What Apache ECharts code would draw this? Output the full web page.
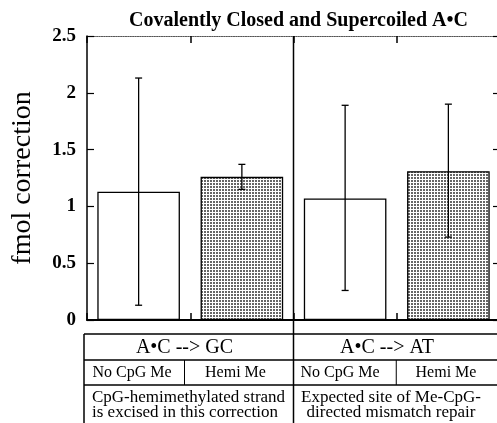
<!DOCTYPE html>
<html>
<head>
<meta charset="utf-8">
<script src="https://cdn.jsdelivr.net/npm/echarts@6/dist/echarts.min.js"></script>
<style>html,body{margin:0;padding:0;background:#fff}#c{width:497px;height:423px}</style>
</head>
<body>
<div id="c"></div>
<script>
// ---- data ----
const categories = ['A•C --> GC / No CpG Me', 'A•C --> GC / Hemi Me', 'A•C --> AT / No CpG Me', 'A•C --> AT / Hemi Me'];
const values = [1.13, 1.26, 1.07, 1.31];
const errLow = [0.13, 1.15, 0.26, 0.73];
const errHigh = [2.13, 1.37, 1.89, 1.90];
const yTicks = [0, 0.5, 1, 1.5, 2, 2.5];
const titleText = 'Covalently Closed and Supercoiled A•C';
const yName = 'fmol correction';
const groupLabels = ['A•C --> GC', 'A•C --> AT'];
const methylLabels = ['No CpG Me', 'Hemi Me', 'No CpG Me', 'Hemi Me'];
const noteLabels = [['CpG-hemimethylated strand', 'is excised in this correction'], ['Expected site of Me-CpG-', 'directed mismatch repair']];
const patterned = [false, true, false, true];

// ---- layout ----
const FONT = 'Liberation Serif';
const G = {left: 87, top: 36, width: 413, height: 284};
const band = G.width / 4;
const divX = G.left + 2 * band;
const T = {left: 84, top: 334, r1: 360, r2: 385, bottom: 423, right: 497};

// dotted pattern
const pc = document.createElement('canvas');
pc.width = 3; pc.height = 3;
const pctx = pc.getContext('2d');
pctx.fillStyle = '#fff'; pctx.fillRect(0, 0, 3, 3);
pctx.fillStyle = '#666'; pctx.fillRect(0, 0, 2, 2);

const chart = echarts.init(document.getElementById('c'), null, {renderer: 'canvas'});

const lineStyle = {stroke: '#000', lineWidth: 1.5};
const graphics = [];
// divider across plot and table
graphics.push({type: 'line', shape: {x1: divX, y1: G.top, x2: divX, y2: T.bottom}, style: {stroke: '#000', lineWidth: 1.5}, z: 100});
// table borders
graphics.push({type: 'line', shape: {x1: T.left, y1: T.top, x2: T.right, y2: T.top}, style: lineStyle});
graphics.push({type: 'line', shape: {x1: T.left, y1: T.r1, x2: T.right, y2: T.r1}, style: lineStyle});
graphics.push({type: 'line', shape: {x1: T.left, y1: T.r2, x2: T.right, y2: T.r2}, style: lineStyle});
graphics.push({type: 'line', shape: {x1: T.left, y1: T.top, x2: T.left, y2: T.bottom}, style: lineStyle});
const sub1 = 184.5;
const sub2 = (divX + G.left + G.width) / 2 - 0.5;
graphics.push({type: 'line', shape: {x1: sub1, y1: T.r1, x2: sub1, y2: T.r2}, style: {stroke: '#000', lineWidth: 1}});
graphics.push({type: 'line', shape: {x1: sub2, y1: T.r1, x2: sub2, y2: T.r2}, style: {stroke: '#000', lineWidth: 1}});

// group labels
const groupCx = [184.5, 387];
groupLabels.forEach((t, i) => graphics.push({type: 'text', x: groupCx[i], y: (T.top + T.r1) / 2 + 1,
  style: {text: t, font: '20px "' + FONT + '"', fill: '#000', align: 'center', verticalAlign: 'middle'}}));
const methCx = [132, 235.5, 340, 446];
methylLabels.forEach((t, i) => graphics.push({type: 'text', x: methCx[i], y: (T.r1 + T.r2) / 2,
  style: {text: t, font: '16px "' + FONT + '"', fill: '#000', align: 'center', verticalAlign: 'middle'}}));
noteLabels[0].forEach((t, j) => graphics.push({type: 'text', x: 92, y: 398 + j * 15,
  style: {text: t, font: '17px "' + FONT + '"', fill: '#000', align: 'left', verticalAlign: 'middle'}}));
noteLabels[1].forEach((t, j) => graphics.push({type: 'text', x: 391, y: 398 + j * 15,
  style: {text: t, font: '17px "' + FONT + '"', fill: '#000', align: 'center', verticalAlign: 'middle'}}));

const option = {
  animation: false,
  backgroundColor: '#fff',
  textStyle: {fontFamily: FONT},
  title: {
    text: titleText, left: 124, top: 6,
    textStyle: {fontFamily: FONT, fontWeight: 'bold', fontSize: 20, color: '#000'}
  },
  grid: {left: G.left, top: G.top, width: G.width, height: G.height, containLabel: false, outerBoundsMode: 'none'},
  xAxis: [
    {
      type: 'category', data: categories, position: 'bottom', boundaryGap: true,
      axisLine: {onZero: false, lineStyle: {color: '#000', width: 2}},
      axisTick: {show: true, interval: 0, inside: true, length: 7, lineStyle: {color: '#000', width: 1.5}},
      axisLabel: {show: false}, splitLine: {show: false}
    },
    {
      type: 'category', data: categories, position: 'top', boundaryGap: true,
      axisLine: {onZero: false, lineStyle: {color: '#555', width: 1.2, type: 'dotted'}},
      axisTick: {show: true, interval: 0, inside: true, length: 7, lineStyle: {color: '#000', width: 1.5}},
      axisLabel: {show: false}, splitLine: {show: false}
    }
  ],
  yAxis: [
    {
      type: 'value', min: yTicks[0], max: yTicks[yTicks.length - 1], interval: yTicks[1] - yTicks[0],
      name: yName, nameLocation: 'middle', nameGap: 50,
      nameTextStyle: {fontFamily: FONT, fontSize: 28, color: '#000'},
      axisLine: {show: true, lineStyle: {color: '#000', width: 1.5}},
      axisTick: {show: true, inside: true, length: 7, lineStyle: {color: '#000', width: 1.2}},
      axisLabel: {fontFamily: FONT, fontWeight: 'bold', fontSize: 19, color: '#000', margin: 11},
      splitLine: {show: false}
    },
    {
      type: 'value', min: yTicks[0], max: yTicks[yTicks.length - 1], interval: yTicks[1] - yTicks[0],
      position: 'right',
      axisLine: {show: false},
      axisTick: {show: true, inside: true, length: 7, lineStyle: {color: '#000', width: 1.2}},
      axisLabel: {show: false}, splitLine: {show: false}
    }
  ],
  series: [
    {
      type: 'bar', barWidth: '80%', xAxisIndex: 0, yAxisIndex: 0,
      data: values.map((v, i) => ({
        value: v,
        itemStyle: {
          color: patterned[i] ? {image: pc, repeat: 'repeat'} : '#fff',
          borderColor: '#000', borderWidth: 1.3
        }
      })),
      z: 2
    },
    {
      type: 'custom', xAxisIndex: 0, yAxisIndex: 0, z: 5,
      data: categories.map((c, i) => [i, errLow[i], errHigh[i]]),
      renderItem: function (params, api) {
        const x = api.value(0);
        const top = api.coord([x, api.value(2)]);
        const bot = api.coord([x, api.value(1)]);
        const hw = 3.5;
        const st = {stroke: '#000', lineWidth: 1.3};
        return {
          type: 'group',
          children: [
            {type: 'line', shape: {x1: top[0], y1: top[1], x2: bot[0], y2: bot[1]}, style: st},
            {type: 'line', shape: {x1: top[0] - hw, y1: top[1], x2: top[0] + hw, y2: top[1]}, style: st},
            {type: 'line', shape: {x1: bot[0] - hw, y1: bot[1], x2: bot[0] + hw, y2: bot[1]}, style: st}
          ]
        };
      }
    }
  ],
  graphic: graphics
};
chart.setOption(option);
</script>
</body>
</html>
